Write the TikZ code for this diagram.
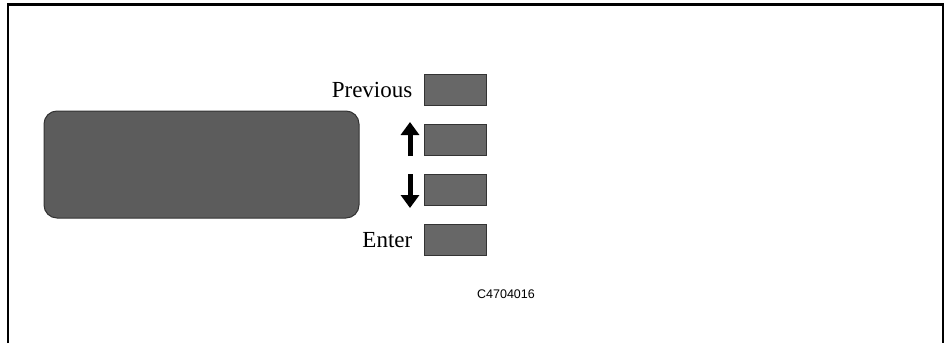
\documentclass[tikz,border=0pt]{standalone}
\usepackage{fontspec}
\setmainfont{Liberation Serif}
\newfontfamily\codefont{Liberation Sans}
\usetikzlibrary{positioning,arrows.meta}
\definecolor{screengray}{HTML}{5C5C5C}
\definecolor{keygray}{HTML}{676767}
\definecolor{edgegray}{HTML}{333333}
\tikzset{
  keybox/.style={draw=edgegray,fill=keygray,line width=1pt,minimum width=62pt,minimum height=31pt,inner sep=0pt},
  keylabel/.style={inner sep=0pt,font=\fontsize{23}{27}\selectfont},
  keyarrow/.style={line width=5pt,-{Triangle[width=18pt,length=13pt]}}
}
\begin{document}
\begin{tikzpicture}[x=1pt,y=-1pt]
    \useasboundingbox (0,0) rectangle (947,343);
    % frame
    \draw[line width=2.3pt] (8,343) -- (8,4.5) -- (944,4.5);
    \draw[line width=1.5pt] (943,4.5) -- (943,343);
    \node[draw=edgegray,fill=screengray,line width=1pt,rounded corners=13pt,
          minimum width=315pt,minimum height=107pt] (display) at (201.5,164.5) {};
    \node[keybox] (keyprev)  at (455.0, 89.5) {};
    \node[keybox] (keyup)    at (455.0,140.0) {};
    \node[keybox] (keydown)  at (455.0,190.0) {};
    \node[keybox] (keyenter) at (455.0,240.0) {};
    \node[keylabel,left=11pt of keyprev]  (prevt)  {Previous};
    \node[keylabel,left=11pt of keyenter] (entert) {Enter};
    \draw[keyarrow] ([xshift=-13.5pt]keyup.south west)  -- ([xshift=-13.5pt,yshift=2pt]keyup.north west);
    \draw[keyarrow] ([xshift=-13.5pt]keydown.north west) -- ([xshift=-13.5pt,yshift=-2pt]keydown.south west);
    \node[font=\codefont\fontsize{12.5}{14}\selectfont] (figid) at (506,294.5) {C4704016};
  \end{tikzpicture}
\end{document}
